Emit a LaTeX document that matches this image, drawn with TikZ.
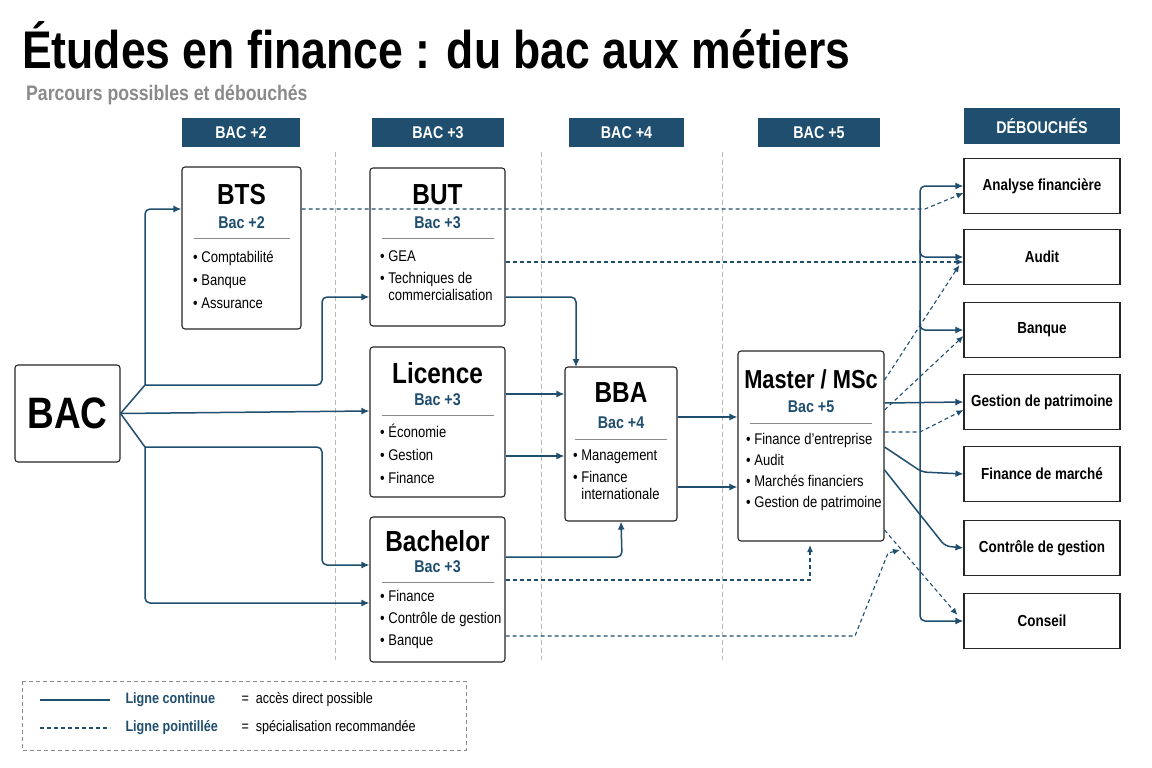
\documentclass[tikz,border=0pt]{standalone}
\usepackage{fontspec}
\setmainfont{Liberation Sans}[FakeStretch=0.84]
\usetikzlibrary{arrows.meta,positioning,calc}
\definecolor{bleu}{HTML}{1F4E6E}
\definecolor{gris}{HTML}{8A8A8A}
\newcommand{\puce}{\textbullet\ }
\begin{document}
\begin{tikzpicture}[x=1pt,y=-1pt]
\tikzset{boite/.style={draw=black!85,line width=1.1pt,rounded corners=3pt,fill=white},
  entete/.style={fill=bleu,text=white,font=\bfseries\fontsize{17}{17}\selectfont,inner sep=0pt},
  metier/.style={draw=black!85,line width=1.1pt,fill=white,minimum width=156,minimum height=55,font=\bfseries\fontsize{16}{16}\selectfont},
  titre/.style={font=\bfseries\fontsize{29}{29}\selectfont},
  niveau/.style={text=bleu,font=\bfseries\fontsize{17}{17}\selectfont},
  liste/.style={anchor=north west,align=left,font=\fontsize{15.5}{23}\selectfont,inner sep=0pt},
  fleche/.style={bleu,line width=1.5pt,-{Latex[length=8pt,width=7pt]},rounded corners=5pt},
  pointille/.style={bleu,line width=1.1pt,dash pattern=on 4pt off 3pt,-{Latex[length=7pt,width=6pt]}},
  colonne/.style={gris!60,line width=0.6pt,dash pattern=on 5pt off 3pt}}
\useasboundingbox (0,0) rectangle (1152,768);
\fill[white] (0,0) rectangle (1152,768);
% titre
\node[anchor=west,font=\bfseries\fontsize{53}{53}\selectfont,inner sep=0pt] (T) at (22,45) {Études en finance : du bac aux métiers};
\node[anchor=west,text=gris,font=\bfseries\fontsize{21}{21}\selectfont,inner sep=0pt] (ST) at (26,95) {Parcours possibles et débouchés};
% colonnes
\foreach \x in {335,541,722} \draw[colonne] (\x,152) -- (\x,660);
\node[entete,minimum width=118,minimum height=29] (H2) at (241,132.5) {BAC +2};
\node[entete,minimum width=132,minimum height=29] (H3) at (438,132.5) {BAC +3};
\node[entete,minimum width=115,minimum height=29] (H4) at (626.5,132.5) {BAC +4};
\node[entete,minimum width=122,minimum height=29] (H5) at (819,132.5) {BAC +5};
\node[entete,minimum width=156,minimum height=36] (HD) at (1042,126) {DÉBOUCHÉS};
% formations
\node[boite,minimum width=105,minimum height=97] (BAC) at (67.5,413.5) {};
\node[font=\bfseries\fontsize{44}{44}\selectfont] at (BAC) {BAC};
\node[boite,minimum width=119,minimum height=162] (BTS) at (241.5,248) {};
\node[titre] at (241.5,195) {BTS};
\node[niveau] at (241.5,223) {Bac +2};
\draw[gris] (194,238) -- (290,238);
\node[liste] at (193,251) {\puce Comptabilité\\\puce Banque\\\puce Assurance};
\node[boite,minimum width=135,minimum height=158] (BUT) at (437.5,247) {};
\node[titre] at (437.5,195) {BUT};
\node[niveau] at (437.5,223) {Bac +3};
\draw[gris] (382,238) -- (494,238);
\node[liste] at (380,250) {\puce GEA\\[-1pt]\puce Techniques de\\[-6pt]\phantom{\puce}commercialisation};
\node[boite,minimum width=135,minimum height=150] (LIC) at (437.5,422) {};
\node[titre] at (437.5,373) {Licence};
\node[niveau] at (437.5,400) {Bac +3};
\draw[gris] (382,415) -- (494,415);
\node[liste] at (380,424) {\puce Économie\\\puce Gestion\\\puce Finance};
\node[boite,minimum width=135,minimum height=145] (BACH) at (437.5,589.5) {};
\node[titre] at (437.5,541) {Bachelor};
\node[niveau] at (437.5,567) {Bac +3};
\draw[gris] (382,582) -- (494,582);
\node[liste] at (380,590) {\puce Finance\\[-1pt]\puce Contrôle de gestion\\[-1pt]\puce Banque};
\node[boite,minimum width=112,minimum height=154] (BBA) at (621,444) {};
\node[titre] at (621,393) {BBA};
\node[niveau] at (621,423) {Bac +4};
\draw[gris] (575,439) -- (667,439);
\node[liste] at (573,450) {\puce Management\\[-1pt]\puce Finance\\[-6pt]\phantom{\puce}internationale};
\node[boite,minimum width=146,minimum height=190] (MAS) at (811,446) {};
\node[titre,font=\bfseries\fontsize{26}{26}\selectfont] at (811,379) {Master / MSc};
\node[niveau] at (811,407) {Bac +5};
\draw[gris] (750,423) -- (872,423);
\node[liste] at (746,433) {\puce Finance d’entreprise\\[-2pt]\puce Audit\\[-2pt]\puce Marchés financiers\\[-2pt]\puce Gestion de patrimoine};
% debouches
\node[metier] (D1) at (1042,186) {Analyse financière};
\node[metier] (D2) at (1042,257) {Audit};
\node[metier] (D3) at (1042,330) {Banque};
\node[metier] (D4) at (1042,402) {Gestion de patrimoine};
\node[metier] (D5) at (1042,474) {Finance de marché};
\node[metier] (D6) at (1042,548) {Contrôle de gestion};
\node[metier] (D7) at (1042,621) {Conseil};
% liaisons continues
\coordinate (F1) at (145,385);
\coordinate (F2) at (145,447);
\draw[bleu,line width=1.5pt] (BAC.east) -- (F1) (BAC.east) -- (F2);
\draw[fleche] (F1) -- (145,209) -- (BTS.west |- 0,209);
\draw[fleche] (F1) -- (322,385) -- (322,297) -- (BUT.west |- 0,297);
\draw[fleche] (BAC.east) -- (LIC.west |- 0,411);
\draw[fleche] (F2) -- (322,447) -- (322,565) -- (BACH.west |- 0,565);
\draw[fleche] (F2) -- (145,603) -- (BACH.west |- 0,603);
\draw[fleche] (BUT.east |- 0,297) -- (576,297) -- (576,367);
\draw[fleche] (LIC.east |- 0,394) -- (BBA.west |- 0,394);
\draw[fleche] (LIC.east |- 0,456) -- (BBA.west |- 0,456);
\draw[fleche] (BACH.east |- 0,557) -- (622,557) -- (BBA.south);
\draw[fleche] (BBA.east |- 0,417) -- (MAS.west |- 0,417);
\draw[fleche] (BBA.east |- 0,487) -- (MAS.west |- 0,487);
\draw[fleche] (MAS.east |- 0,403) -- (D4.west);
\draw[fleche] (MAS.east |- 0,447) -- (922,472) -- (D5.west);
\draw[fleche] (MAS.east |- 0,470) -- (945,546) -- (D6.west);
\draw[fleche] (920,500) -- (920,186) -- (D1.west);
\draw[fleche] (920,240) -- (920,257) -- (D2.west);
\draw[fleche] (920,310) -- (920,330) -- (D3.west);
\draw[fleche] (920,500) -- (920,621) -- (D7.west);
% liaisons pointillees
\draw[pointille] (BTS.east |- 0,209) -- (925,209) -- ($(D1.west)+(0,7)$);
\draw[pointille] (BUT.east |- 0,262) -- ($(D2.west)+(0,5)$);
\draw[pointille] (MAS.east |- 0,380) -- ($(D2.west)+(-4,8)$);
\draw[pointille] (MAS.east |- 0,410) -- ($(D3.west)+(0,6)$);
\draw[pointille] (MAS.east |- 0,432) -- (920,432) -- ($(D4.west)+(0,8)$);
\draw[pointille] (MAS.east |- 0,530) -- ($(D7.west)+(-6,-6)$);
\draw[pointille] (BACH.east |- 0,580) -- (810,580) -- (810,545);
\draw[pointille] (BACH.east |- 0,636) -- (855,636) -- (888,553) -- (900,550);
% legende
\draw[gris,line width=0.8pt,dash pattern=on 4pt off 3pt] (22,681) rectangle (466,750);
\coordinate (L1) at (40,700);
\coordinate (L2) at (40,728);
\draw[bleu,line width=1.5pt] (L1) -- ++(70,0);
\draw[bleu,line width=1.1pt,dash pattern=on 4pt off 3pt] (L2) -- ++(70,0);
\node[anchor=west,text=bleu,font=\bfseries\fontsize{15}{15}\selectfont] (LT1) at (122,700) {Ligne continue};
\node[anchor=west,text=bleu,font=\bfseries\fontsize{15}{15}\selectfont] (LT2) at (122,728) {Ligne pointillée};
\node[anchor=west,font=\fontsize{15}{15}\selectfont] (LE1) at (238,700) {=\ \ accès direct possible};
\node[anchor=west,font=\fontsize{15}{15}\selectfont] (LE2) at (238,728) {=\ \ spécialisation recommandée};
\end{tikzpicture}
\end{document}
